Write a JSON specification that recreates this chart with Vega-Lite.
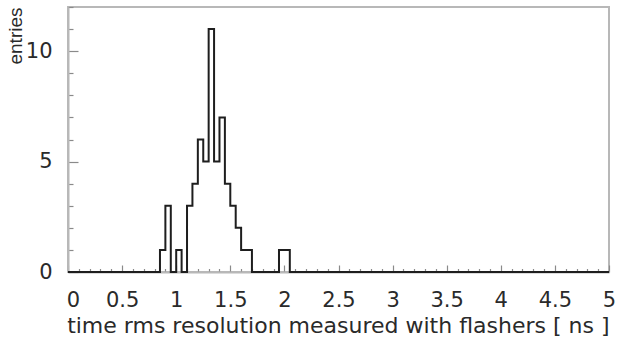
{
  "$schema": "https://vega.github.io/schema/vega-lite/v6.json",
  "width": 541,
  "height": 265,
  "autosize": {"type": "none"},
  "padding": {"left": 68, "top": 7, "right": 8, "bottom": 67},
  "background": "white",
  "config": {
    "view": {"stroke": "#b8b8b8", "strokeWidth": 2},
    "axis": {
      "zindex": 1,
      "grid": false,
      "domainColor": "#b8b8b8",
      "domainWidth": 2,
      "tickColor": "#8a8a8a",
      "tickWidth": 1.2,
      "labelFont": "DejaVu Sans",
      "labelFontSize": 21,
      "labelColor": "#2a2a2a",
      "labelOverlap": false,
      "titleFont": "DejaVu Sans",
      "titleFontWeight": "normal",
      "titleColor": "#2a2a2a"
    }
  },
  "data": {
    "values": [
      {"t": 0.00, "entries": 0}, {"t": 0.05, "entries": 0}, {"t": 0.10, "entries": 0}, {"t": 0.15, "entries": 0},
      {"t": 0.20, "entries": 0}, {"t": 0.25, "entries": 0}, {"t": 0.30, "entries": 0}, {"t": 0.35, "entries": 0},
      {"t": 0.40, "entries": 0}, {"t": 0.45, "entries": 0}, {"t": 0.50, "entries": 0}, {"t": 0.55, "entries": 0},
      {"t": 0.60, "entries": 0}, {"t": 0.65, "entries": 0}, {"t": 0.70, "entries": 0}, {"t": 0.75, "entries": 0},
      {"t": 0.80, "entries": 0}, {"t": 0.85, "entries": 1}, {"t": 0.90, "entries": 3}, {"t": 0.95, "entries": 0},
      {"t": 1.00, "entries": 1}, {"t": 1.05, "entries": 0}, {"t": 1.10, "entries": 3}, {"t": 1.15, "entries": 4},
      {"t": 1.20, "entries": 6}, {"t": 1.25, "entries": 5}, {"t": 1.30, "entries": 11}, {"t": 1.35, "entries": 5},
      {"t": 1.40, "entries": 7}, {"t": 1.45, "entries": 4}, {"t": 1.50, "entries": 3}, {"t": 1.55, "entries": 2},
      {"t": 1.60, "entries": 1}, {"t": 1.65, "entries": 1}, {"t": 1.70, "entries": 0}, {"t": 1.75, "entries": 0},
      {"t": 1.80, "entries": 0}, {"t": 1.85, "entries": 0}, {"t": 1.90, "entries": 0}, {"t": 1.95, "entries": 1},
      {"t": 2.00, "entries": 1}, {"t": 2.05, "entries": 0}, {"t": 2.10, "entries": 0}, {"t": 2.15, "entries": 0},
      {"t": 2.20, "entries": 0}, {"t": 2.25, "entries": 0}, {"t": 2.30, "entries": 0}, {"t": 2.35, "entries": 0},
      {"t": 2.40, "entries": 0}, {"t": 2.45, "entries": 0}, {"t": 2.50, "entries": 0}, {"t": 2.55, "entries": 0},
      {"t": 2.60, "entries": 0}, {"t": 2.65, "entries": 0}, {"t": 2.70, "entries": 0}, {"t": 2.75, "entries": 0},
      {"t": 2.80, "entries": 0}, {"t": 2.85, "entries": 0}, {"t": 2.90, "entries": 0}, {"t": 2.95, "entries": 0},
      {"t": 3.00, "entries": 0}, {"t": 3.05, "entries": 0}, {"t": 3.10, "entries": 0}, {"t": 3.15, "entries": 0},
      {"t": 3.20, "entries": 0}, {"t": 3.25, "entries": 0}, {"t": 3.30, "entries": 0}, {"t": 3.35, "entries": 0},
      {"t": 3.40, "entries": 0}, {"t": 3.45, "entries": 0}, {"t": 3.50, "entries": 0}, {"t": 3.55, "entries": 0},
      {"t": 3.60, "entries": 0}, {"t": 3.65, "entries": 0}, {"t": 3.70, "entries": 0}, {"t": 3.75, "entries": 0},
      {"t": 3.80, "entries": 0}, {"t": 3.85, "entries": 0}, {"t": 3.90, "entries": 0}, {"t": 3.95, "entries": 0},
      {"t": 4.00, "entries": 0}, {"t": 4.05, "entries": 0}, {"t": 4.10, "entries": 0}, {"t": 4.15, "entries": 0},
      {"t": 4.20, "entries": 0}, {"t": 4.25, "entries": 0}, {"t": 4.30, "entries": 0}, {"t": 4.35, "entries": 0},
      {"t": 4.40, "entries": 0}, {"t": 4.45, "entries": 0}, {"t": 4.50, "entries": 0}, {"t": 4.55, "entries": 0},
      {"t": 4.60, "entries": 0}, {"t": 4.65, "entries": 0}, {"t": 4.70, "entries": 0}, {"t": 4.75, "entries": 0},
      {"t": 4.80, "entries": 0}, {"t": 4.85, "entries": 0}, {"t": 4.90, "entries": 0}, {"t": 4.95, "entries": 0},
      {"t": 5.00, "entries": 0}
    ]
  },
  "mark": {"type": "line", "interpolate": "step-after", "color": "#1e1e1e", "strokeWidth": 2},
  "encoding": {
    "x": {
      "field": "t",
      "type": "quantitative",
      "scale": {"domain": [0, 5], "nice": false, "zero": false},
      "axis": {
        "values": [0, 0.1, 0.2, 0.3, 0.4, 0.5, 0.6, 0.7, 0.8, 0.9, 1, 1.1, 1.2, 1.3, 1.4, 1.5, 1.6, 1.7, 1.8, 1.9, 2, 2.1, 2.2, 2.3, 2.4, 2.5, 2.6, 2.7, 2.8, 2.9, 3, 3.1, 3.2, 3.3, 3.4, 3.5, 3.6, 3.7, 3.8, 3.9, 4, 4.1, 4.2, 4.3, 4.4, 4.5, 4.6, 4.7, 4.8, 4.9, 5],
        "labelExpr": "abs(datum.value * 2 - round(datum.value * 2)) < 0.001 ? format(datum.value, '~g') : ''",
        "tickSize": {"condition": {"test": "abs(datum.value * 2 - round(datum.value * 2)) < 0.001", "value": -7}, "value": -3.5},
        "labelOffset": {"condition": {"test": "datum.value === 0", "value": 5}, "value": 0},
        "labelFlush": false,
        "labelBaseline": "alphabetic",
        "labelPadding": 41,
        "title": "time rms resolution measured with flashers [ ns ]",
        "titleFontSize": 22,
        "titleAnchor": "end",
        "titleBaseline": "alphabetic",
        "titlePadding": 19
      }
    },
    "y": {
      "field": "entries",
      "type": "quantitative",
      "scale": {"domain": [0, 12], "nice": false},
      "axis": {
        "values": [0, 1, 2, 3, 4, 5, 6, 7, 8, 9, 10, 11, 12],
        "labelExpr": "datum.value % 5 === 0 ? datum.label : ''",
        "tickSize": {"condition": {"test": "datum.value % 5 === 0", "value": -10}, "value": -5},
        "labelBaseline": "middle",
        "labelPadding": 26,
        "title": "entries",
        "titleFont": "Liberation Sans",
        "titleFontSize": 19,
        "titleAnchor": "end",
        "titlePadding": 0
      }
    }
  }
}
